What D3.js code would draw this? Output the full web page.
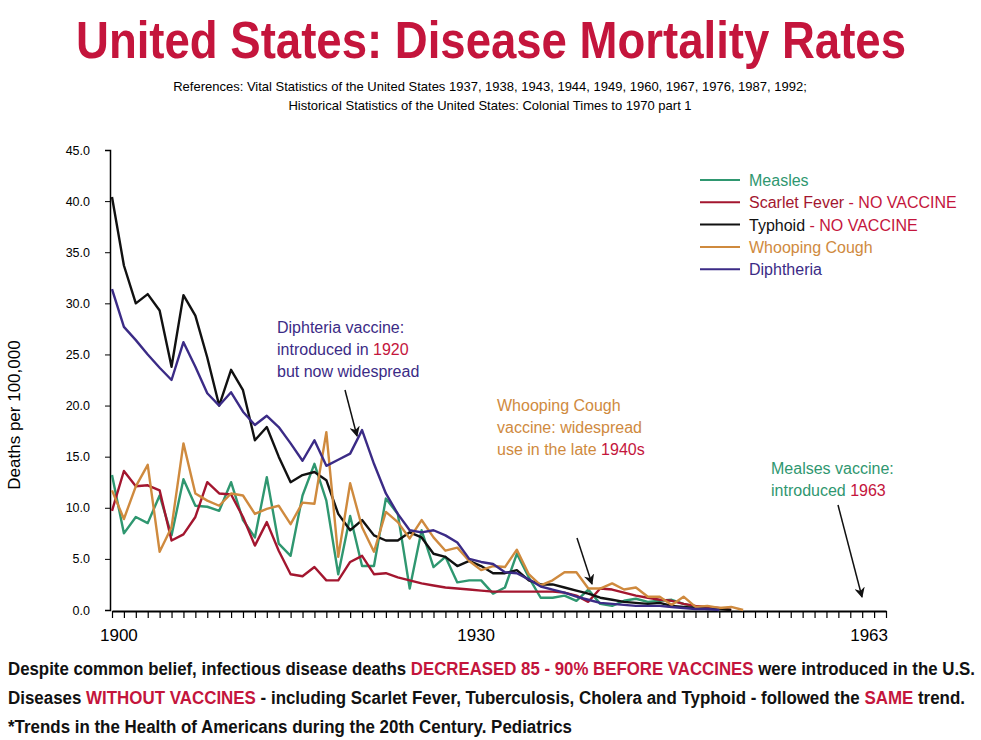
<!DOCTYPE html>
<html>
<head>
  <meta charset="utf-8">
  <title>United States: Disease Mortality Rates</title>
  <script src="https://d3js.org/d3.v7.min.js"></script>
  <style>
    body { margin: 0; background: #fff; }
    text { font-family: "Liberation Sans", Arial, sans-serif; }
  </style>
</head>
<body>
  <div id="chart"></div>
  <script>
    // Data, one value per year starting 1899
    var startYear = 1899;
    var measles = [13.2, 7.5, 9.1, 8.5, 11.2, 7.3, 12.8, 10.2, 10.1, 9.7, 12.5, 8.8, 7.1, 13.0, 6.5, 5.3, 11.2, 14.3, 10.7, 3.5,
      9.2, 4.3, 4.3, 10.9, 9.4, 2.1, 7.8, 4.2, 5.2, 2.7, 2.9, 2.9, 1.6, 2.2, 5.5, 3.2, 1.2, 1.2, 1.4, 0.9, 2.0, 0.6, 0.4, 0.9,
      1.1, 0.8, 0.9, 1.0, 0.6, 0.3, 0.2, 0];
    var scarletFever = [9.7, 13.6, 12.1, 12.2, 11.7, 6.8, 7.4, 9.1, 12.5, 11.4, 11.3, 9.1, 6.3, 8.6, 5.8, 3.5, 3.3, 4.2, 2.9, 2.9,
      4.7, 5.3, 3.5, 3.6, 3.2, 2.9, 2.6, 2.4, 2.2, 2.1, 2.0, 1.9, 1.8, 1.8, 1.8, 1.8, 1.8, 1.8, 1.7, 1.4, 0.8, 2.1, 2.0, 1.7,
      1.4, 1.2, 1.0, 0.9, 0.6, 0.4, 0.3, 0.2, 0];
    var typhoid = [40.4, 33.7, 30.0, 30.9, 29.3, 23.8, 30.8, 28.8, 24.7, 20.0, 23.5, 21.5, 16.6, 17.9, 15.0, 12.5, 13.2, 13.5, 12.7, 9.4,
      7.8, 8.8, 7.3, 6.8, 6.8, 7.6, 7.1, 5.5, 5.2, 4.3, 4.8, 4.3, 3.6, 3.6, 3.9, 2.9, 2.5, 2.5, 2.2, 1.9, 1.6, 1.2, 1.0, 0.8,
      0.7, 0.6, 0.7, 0.4, 0.3, 0.2, 0.1, 0.1, 0];
    var whoopingCough = [11.7, 8.9, 12.1, 14.2, 5.7, 8.1, 16.3, 11.4, 10.7, 10.2, 11.4, 11.2, 9.4, 9.9, 10.2, 8.4, 10.5, 10.4, 17.4, 5.2,
      12.4, 8.1, 5.7, 9.6, 8.6, 7.0, 8.8, 7.1, 5.8, 6.1, 4.8, 3.9, 4.3, 4.2, 5.9, 3.5, 2.4, 2.9, 3.7, 3.7, 2.1, 2.1, 2.6, 2.0,
      2.2, 1.3, 1.3, 0.5, 1.3, 0.3, 0.4, 0.2, 0.3, 0];
    var diphtheria = [31.4, 27.7, 26.4, 25.0, 23.7, 22.5, 26.2, 23.8, 21.2, 20.0, 21.3, 19.4, 18.1, 19.0, 17.9, 16.3, 14.6, 16.6, 14.1, 14.7,
      15.3, 17.6, 14.3, 11.4, 9.4, 7.8, 7.6, 7.8, 7.3, 6.6, 5.0, 4.7, 4.5, 3.7, 3.6, 3.0, 2.3, 2.0, 1.7, 1.3, 1.0, 0.7, 0.6, 0.5,
      0.4, 0.4, 0.4, 0.3, 0.2, 0.1, 0.1, 0];

    var yTicks = [0, 5, 10, 15, 20, 25, 30, 35, 40, 45];
    var xLabels = [1900, 1930, 1963];

    var series = [
      { name: "Measles", note: "", color: "#2f9770", values: measles },
      { name: "Scarlet Fever", note: " - NO VACCINE", color: "#a3162f", values: scarletFever },
      { name: "Typhoid", note: " - NO VACCINE", color: "#111111", values: typhoid },
      { name: "Whooping Cough", note: "", color: "#cf8a3e", values: whoopingCough },
      { name: "Diphtheria", note: "", color: "#3b2b86", values: diphtheria }
    ];
    var red = "#c4153c";

    var width = 981, height = 740;
    var svg = d3.select("#chart").append("svg")
      .attr("width", width)
      .attr("height", height);

    var x = d3.scaleLinear().domain([1899, 1964]).range([112, 886]);
    var y = d3.scaleLinear().domain([0, 45]).range([610, 150]);

    // Title (condensed face not installed, so squeeze it)
    svg.append("text")
      .attr("x", 76).attr("y", 58)
      .attr("textLength", 830).attr("lengthAdjust", "spacingAndGlyphs")
      .style("font-weight", "bold")
      .style("font-size", "52px")
      .attr("fill", red)
      .text("United States: Disease Mortality Rates");

    svg.append("text").attr("x", 490).attr("y", 91).attr("text-anchor", "middle")
      .style("font-size", "13px")
      .text("References: Vital Statistics of the United States 1937, 1938, 1943, 1944, 1949, 1960, 1967, 1976, 1987, 1992;");
    svg.append("text").attr("x", 490).attr("y", 110).attr("text-anchor", "middle")
      .style("font-size", "13px")
      .text("Historical Statistics of the United States: Colonial Times to 1970 part 1");

    // Y axis
    var yAxis = svg.append("g")
      .attr("transform", "translate(110,0)")
      .call(d3.axisLeft(y).tickValues(yTicks).tickFormat(d3.format(".1f")).tickSize(5));
    yAxis.select(".domain").attr("stroke-width", 1.5);
    yAxis.selectAll("text").style("font-size", "12.5px").attr("x", -20);

    svg.append("text")
      .attr("transform", "translate(20,415) rotate(-90)")
      .attr("text-anchor", "middle")
      .style("font-size", "17px")
      .text("Deaths per 100,000");

    // X axis
    var years = d3.range(1899, 1965);
    var xAxis = svg.append("g")
      .attr("transform", "translate(0,611)")
      .call(d3.axisBottom(x).tickValues(years).tickFormat("").tickSize(7).tickSizeOuter(0));
    xAxis.select(".domain").attr("stroke-width", 2);
    xAxis.selectAll("line").attr("stroke-width", 1.2);

    svg.selectAll(".xlab").data(xLabels).enter().append("text")
      .attr("class", "xlab")
      .attr("x", function(d) { return x(d) - 5; })
      .attr("y", 641)
      .attr("text-anchor", "middle")
      .style("font-size", "17px")
      .text(function(d) { return d; });

    // Lines
    var line = d3.line()
      .x(function(d, i) { return x(startYear + i); })
      .y(function(d) { return y(d); });

    svg.selectAll(".series").data(series).enter().append("path")
      .attr("class", "series")
      .attr("d", function(d) { return line(d.values); })
      .attr("fill", "none")
      .attr("stroke", function(d) { return d.color; })
      .attr("stroke-width", 2.4)
      .attr("stroke-linejoin", "round");

    // Legend
    var legend = svg.selectAll(".legend").data(series).enter().append("g")
      .attr("class", "legend")
      .attr("transform", function(d, i) { return "translate(700," + (180 + i * 22.3) + ")"; });
    legend.append("line").attr("x1", 0).attr("x2", 40)
      .attr("stroke", function(d) { return d.color; }).attr("stroke-width", 2);
    var lt = legend.append("text").attr("x", 49).attr("y", 6).style("font-size", "16px");
    lt.append("tspan").attr("fill", function(d) { return d.color; })
      .text(function(d) { return d.name; });
    lt.append("tspan").attr("fill", red).text(function(d) { return d.note; });

    // Annotations
    svg.append("defs").append("marker")
      .attr("id", "arrow").attr("viewBox", "0 0 10 10")
      .attr("refX", 9).attr("refY", 5)
      .attr("markerWidth", 7).attr("markerHeight", 7)
      .attr("orient", "auto")
      .append("path").attr("d", "M0,0 L10,5 L0,10 L3,5 z").attr("fill", "#111");

    function note(x0, y0, lines, color) {
      var t = svg.append("text").attr("x", x0).attr("y", y0).style("font-size", "16px");
      lines.forEach(function(l, i) {
        var ts = t.append("tspan").attr("x", x0).attr("dy", i === 0 ? 0 : 22);
        l.forEach(function(p) { ts.append("tspan").attr("fill", p[1] || color).text(p[0]); });
      });
    }
    function arrow(x1, y1, x2, y2) {
      svg.append("line").attr("x1", x1).attr("y1", y1).attr("x2", x2).attr("y2", y2)
        .attr("stroke", "#111").attr("stroke-width", 1.5).attr("marker-end", "url(#arrow)");
    }

    var purple = "#3b2b86", orange = "#cf8a3e", green = "#2f9770";
    note(277, 333, [[["Diphteria vaccine:"]], [["introduced in "], ["1920", red]], [["but now widespread"]]], purple);
    arrow(345, 390, 357, 436);
    note(497, 411, [[["Whooping Cough"]], [["vaccine: widespread"]], [["use in the late "], ["1940s", red]]], orange);
    arrow(577, 538, 592, 584);
    note(771, 474, [[["Mealses vaccine:"]], [["introduced "], ["1963", red]]], green);
    arrow(838, 505, 862, 597);

    // Footer (squeezed to the reference widths)
    function footer(yPos, len, parts) {
      var t = svg.append("text").attr("x", 8).attr("y", yPos)
        .attr("textLength", len).attr("lengthAdjust", "spacingAndGlyphs")
        .style("font-weight", "bold").style("font-size", "18px");
      parts.forEach(function(p) { t.append("tspan").attr("fill", p[1] ? red : "#111").text(p[0]); });
    }
    footer(675, 967, [["Despite common belief, infectious disease deaths "], ["DECREASED 85 - 90% BEFORE VACCINES", 1], [" were introduced in the U.S."]]);
    footer(704, 957, [["Diseases "], ["WITHOUT VACCINES", 1], [" - including Scarlet Fever, Tuberculosis, Cholera and Typhoid - followed the "], ["SAME", 1], [" trend."]]);
    footer(733, 564, [["*Trends in the Health of Americans during the 20th Century. Pediatrics"]]);
  </script>
</body>
</html>
